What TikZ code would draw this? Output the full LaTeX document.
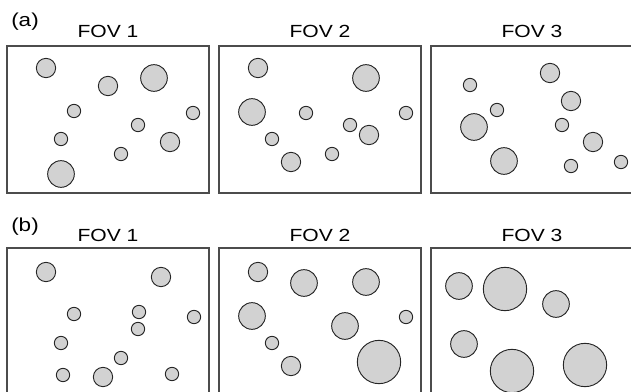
\documentclass[tikz,border=0pt]{standalone}
\usepackage{fontspec}
\setmainfont{Liberation Sans}
\newfontfamily\widefont[FakeStretch=1.2]{Liberation Sans}
\usetikzlibrary{positioning}
\tikzstyle{fov} = [rectangle, draw=black!70, line width=0.9pt,
    minimum width=6.06cm, minimum height=4.41cm, inner sep=0pt]
\tikzstyle{cell} = [circle, draw=black!85, fill=gray!35, line width=0.8pt, inner sep=0pt]
\tikzstyle{fovlabel} = [inner sep=0pt, anchor=south, font=\widefont\fontsize{15}{17}\selectfont]
\tikzstyle{panel} = [inner sep=0pt, font=\widefont\fontsize{16}{18}\selectfont]

\begin{document}
\begin{tikzpicture}[x=0.03cm, y=-0.03cm]
	\path[use as bounding box, clip] (0,0) rectangle (631,392);
	% Place frames
	\node [fov] (a1) at (108,119.5) {};
	\node [fov] (a2) at (320,119.5) {};
	\node [fov] (a3) at (532,119.5) {};
	\node [fov] (b1) at (108,321.5) {};
	\node [fov] (b2) at (320,321.5) {};
	\node [fov] (b3) at (532,321.5) {};
	% Labels
	\node [panel] (la) at (25,22) {(a)};
	\node [panel] (lb) at (25,227) {(b)};
	\node [fovlabel, above=0.22cm of a1] (ta1) {FOV 1};
	\node [fovlabel, above=0.22cm of a2] (ta2) {FOV 2};
	\node [fovlabel, above=0.22cm of a3] (ta3) {FOV 3};
	\node [fovlabel, above=0.18cm of b1] (tb1) {FOV 1};
	\node [fovlabel, above=0.18cm of b2] (tb2) {FOV 2};
	\node [fovlabel, above=0.18cm of b3] (tb3) {FOV 3};
	% Cells in (a)
	\foreach \x/\y/\d [count=\i] in {46/68/0.58, 108/86/0.58, 154/78/0.8, 74/111/0.4, 193/113/0.4,
	    138/125/0.4, 61/139/0.4, 170/142/0.58, 121/154/0.4, 61/174/0.8}
	    \node [cell, minimum size=\d cm] (ca1-\i) at (\x,\y) {};
	\foreach \x/\y/\d [count=\i] in {258/68/0.58, 366/78/0.8, 252/112/0.8, 306/113/0.4, 406/113/0.4,
	    350/125/0.4, 369/135/0.58, 272/139/0.4, 332/154/0.4, 291/162/0.58}
	    \node [cell, minimum size=\d cm] (ca2-\i) at (\x,\y) {};
	\foreach \x/\y/\d [count=\i] in {550/73/0.58, 470/85/0.4, 571/101/0.58, 497/110/0.4, 474/127/0.8,
	    562/125/0.4, 593/142/0.58, 504/161/0.8, 571/166/0.4, 621/162/0.4}
	    \node [cell, minimum size=\d cm] (ca3-\i) at (\x,\y) {};
	% Cells in (b)
	\foreach \x/\y/\d [count=\i] in {46/272/0.58, 161/277/0.58, 74/314/0.4, 139/312/0.4, 194/317/0.4,
	    138/329/0.4, 61/343/0.4, 121/358/0.4, 63/375/0.4, 103/377/0.58, 172/374/0.4}
	    \node [cell, minimum size=\d cm] (cb1-\i) at (\x,\y) {};
	\foreach \x/\y/\d [count=\i] in {258/272/0.58, 304/283/0.8, 366/282/0.8, 252/316/0.8, 406/317/0.4,
	    345/326/0.8, 272/343/0.4, 291/366/0.58, 379/362/1.3}
	    \node [cell, minimum size=\d cm] (cb2-\i) at (\x,\y) {};
	\foreach \x/\y/\d [count=\i] in {459/286/0.8, 505/289/1.3, 556/304/0.8, 464/344/0.8,
	    512/371/1.3, 585/365/1.3}
	    \node [cell, minimum size=\d cm] (cb3-\i) at (\x,\y) {};
\end{tikzpicture}
\end{document}
